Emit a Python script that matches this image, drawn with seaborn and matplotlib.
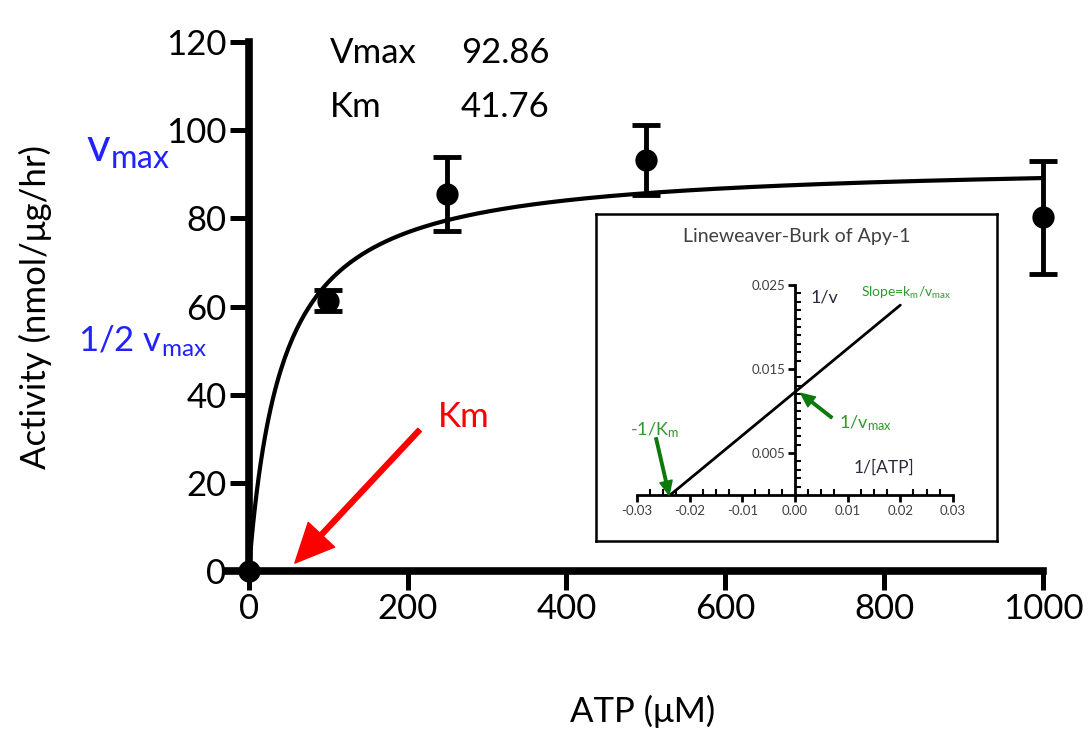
import numpy as np
import pandas as pd
import matplotlib
matplotlib.use('Agg')
import matplotlib.pyplot as plt
import seaborn as sns

# Michaelis-Menten data (ATP in uM, activity in nmol/ug/hr)
atp = [0, 100, 250, 500, 1000]
activity = [0, 61.3, 85.5, 93.2, 80.2]
activity_err = [0, 2.4, 8.4, 8.0, 12.8]
vmax = 92.86
km = 41.76

# Lineweaver-Burk inset line
lb_x = [-0.0237, 0.02]
lb_y = [0.0, 0.0226]

sns.set_style('ticks')
plt.rcParams['font.family'] = ['Lato', 'DejaVu Sans']
plt.rcParams['mathtext.default'] = 'regular'
plt.rcParams['axes.unicode_minus'] = False
for k in ['text.color', 'axes.labelcolor', 'xtick.color', 'ytick.color', 'axes.edgecolor']:
    plt.rcParams[k] = 'black'

fig = plt.figure(figsize=(10.9, 7.29), dpi=100)
ax = fig.add_axes([0.2064, 0.2167, 0.7505, 0.7257])

# fitted curve from the shown Vmax / Km
curve = pd.DataFrame({'x': np.linspace(0, 1000, 400)})
curve['y'] = vmax * curve['x'] / (km + curve['x'])
sns.lineplot(data=curve, x='x', y='y', ax=ax, color='black', lw=3, clip_on=False)

pts = pd.DataFrame({'atp': atp, 'act': activity, 'err': activity_err})
ax.errorbar(pts['atp'][1:], pts['act'][1:], yerr=pts['err'][1:], fmt='none',
            ecolor='black', elinewidth=3.5, capsize=10, capthick=3.5, clip_on=False, zorder=4)
sns.scatterplot(data=pts, x='atp', y='act', ax=ax, color='black', s=220,
                edgecolor='black', zorder=5, clip_on=False)

ax.set_xlim(-30, 1000)
ax.set_ylim(0, 120)
ax.spines['left'].set_position(('data', 0))
ax.spines['bottom'].set_bounds(-27, 1000)
ax.spines['left'].set_bounds(0, 120)
for s in ['top', 'right']:
    ax.spines[s].set_visible(False)
for s in ['left', 'bottom']:
    ax.spines[s].set_linewidth(5.5)
ax.set_xticks([0, 200, 400, 600, 800, 1000])
ax.set_yticks([0, 20, 40, 60, 80, 100, 120])
ax.tick_params(axis='both', length=14, width=3.6, labelsize=25, pad=2, color='black')
ax.set_xlabel('ATP (μM)', fontsize=25)
ax.set_ylabel('Activity (nmol/μg/hr)', fontsize=25)
ax.yaxis.set_label_coords(-0.2115, 0.5)
ax.xaxis.set_label_coords(0.51, -0.235)

# parameter table
ax.text(102, 115.2, 'Vmax', fontsize=25, va='baseline')
ax.text(267, 115.2, '92.86', fontsize=25, va='baseline')
ax.text(102, 103, 'Km', fontsize=25, va='baseline')
ax.text(267, 103, '41.76', fontsize=25, va='baseline')

# annotations
ax.text(-205, 92.8, r'v$_{max}$', fontsize=33, color='#2222ff', va='baseline', clip_on=False)
ax.text(-215, 49.7, r'1/2 v$_{max}$', fontsize=25, color='#2222ff', va='baseline', clip_on=False)
ax.text(238, 32.7, 'Km', fontsize=25, color='red', va='baseline')
ax.annotate('', xy=(58, 1.8), xytext=(215, 32),
            arrowprops=dict(color='red', width=3.5, headwidth=26, headlength=28, shrink=0))

# inset frame
box = fig.add_axes([0.5468, 0.2579, 0.3679, 0.4486])
box.set_xticks([])
box.set_yticks([])
for s in box.spines.values():
    s.set_linewidth(1.8)
    s.set_color('black')
box.text(0.5, 0.93, 'Lineweaver-Burk of Apy-1', transform=box.transAxes,
         ha='center', va='center', fontsize=14, color='#404040')

ins = fig.add_axes([0.5844, 0.3210, 0.2899, 0.2881])
ins.patch.set_alpha(0)
sns.lineplot(x=lb_x, y=lb_y, ax=ins, color='black', lw=2)
ins.set_xlim(-0.03, 0.03)
ins.set_ylim(0, 0.025)
ins.spines['left'].set_position(('data', 0))
for s in ['top', 'right']:
    ins.spines[s].set_visible(False)
for s in ['left', 'bottom']:
    ins.spines[s].set_linewidth(2)
ins.set_xticks([-0.03, -0.02, -0.01, 0.0, 0.01, 0.02, 0.03])
ins.set_xticklabels(['-0.03', '-0.02', '-0.01', '0.00', '0.01', '0.02', '0.03'])
ins.set_xticks(np.arange(-0.03, 0.0301, 0.0025), minor=True)
ins.set_yticks([0.005, 0.015, 0.025])
ins.set_yticklabels(['0.005', '0.015', '0.025'])
ins.set_yticks(np.arange(0.001, 0.0251, 0.001), minor=True)
ins.tick_params(which='major', length=5, width=2, labelsize=9.5, labelcolor='#404040', pad=2)
ins.tick_params(which='minor', direction='in', length=4, width=1.5)
ins.set_xlabel('')
ins.set_ylabel('')

green_txt = '#2e9a2e'
green_arr = '#0b7a0b'
ins.text(0.0125, 0.024, r'Slope=k$_m$/v$_{max}$', fontsize=10, color=green_txt, va='center')
ins.text(0.003, 0.0235, '1/v', fontsize=13, color='#2a2a3a', va='center')
ins.text(0.0112, 0.0032, '1/[ATP]', fontsize=12.5, color='#2a2a3a', va='center')
ins.text(-0.0266, 0.0077, r'-1/K$_m$', fontsize=13, color=green_txt, ha='center', va='center')
ins.text(0.0083, 0.0085, r'1/v$_{max}$', fontsize=13, color=green_txt, va='center')
ins.annotate('', xy=(-0.0239, 0.0), xytext=(-0.0264, 0.0068),
             arrowprops=dict(color=green_arr, width=1.8, headwidth=9, headlength=10, shrink=0))
ins.annotate('', xy=(0.0011, 0.0121), xytext=(0.0070, 0.0092),
             arrowprops=dict(color=green_arr, width=1.8, headwidth=9, headlength=10, shrink=0))

fig.savefig('out.png', dpi=100)
